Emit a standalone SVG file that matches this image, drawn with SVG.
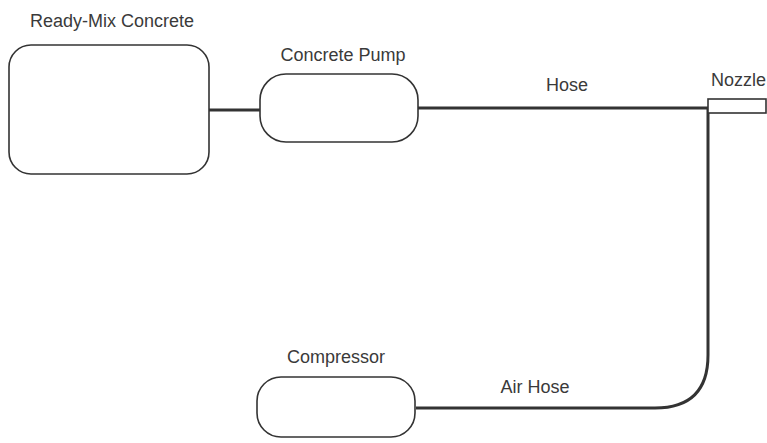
<svg xmlns="http://www.w3.org/2000/svg" width="767" height="443" viewBox="0 0 767 443">
<style>
.box{fill:#fff;stroke:#333;stroke-width:1.6}
.pipe{fill:none;stroke:#333;stroke-width:3}
text{font-family:"Liberation Sans",Arial,sans-serif;font-size:18px;fill:#3a3a3a}
</style>
<rect width="767" height="443" fill="#fff"/>
<g id="connectors">
<path class="pipe" d="M209 110 H260"/>
<path class="pipe" d="M418 108 H708"/>
<path class="pipe" d="M708 108 V355 Q708 408 655 408 H416"/>
<text x="567" y="91" text-anchor="middle">Hose</text>
<text x="535" y="393" text-anchor="middle">Air Hose</text>
</g>
<g id="ready-mix">
<rect class="box" x="9" y="45" width="200" height="129" rx="22"/>
<text x="112" y="27" text-anchor="middle">Ready-Mix Concrete</text>
</g>
<g id="pump">
<rect class="box" x="260" y="74" width="158" height="68" rx="26"/>
<text x="343" y="61" text-anchor="middle">Concrete Pump</text>
</g>
<g id="nozzle">
<rect class="box" x="708" y="99" width="58" height="14"/>
<text x="766" y="86" text-anchor="end">Nozzle</text>
</g>
<g id="compressor">
<rect class="box" x="257" y="377" width="158" height="60" rx="24"/>
<text x="336" y="363" text-anchor="middle">Compressor</text>
</g>
</svg>
